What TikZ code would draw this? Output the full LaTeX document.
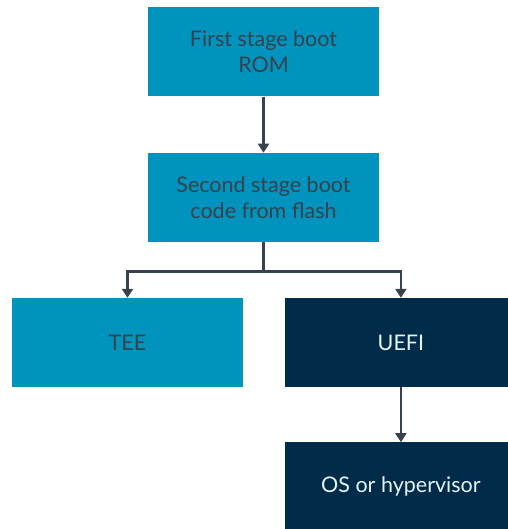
\documentclass[tikz,border=0pt]{standalone}
\usepackage{fontspec}
\setmainfont{Lato}
\usepackage{tikz}
\usetikzlibrary{arrows.meta,positioning,calc}
\definecolor{bootblue}{HTML}{0093BE}
\definecolor{bootnavy}{HTML}{002B49}
\definecolor{bootgrey}{HTML}{37424D}
\tikzset{
  lightbox/.style={fill=bootblue,text=bootgrey,minimum width=231pt,minimum height=89pt,align=center,inner sep=0pt,font=\fontsize{21.5}{26}\selectfont},
  darkbox/.style={lightbox,fill=bootnavy,text=white!90!bootblue},
  flow/.style={draw=bootgrey,line width=2.8pt,-{Triangle[width=11pt,length=9pt]}}
}
\begin{document}
\begin{tikzpicture}[x=1pt,y=1pt,node distance=55pt and 42pt]
\useasboundingbox (0,0) rectangle (507,-529);
\node[lightbox] (rom) at (263.5,-52) {First stage boot\\ROM};
\node[lightbox,below=56pt of rom] (flash) {Second stage boot\\code from flash};
\node[lightbox] (tee) at (127.5,-342.5) {TEE};
\node[darkbox,right=of tee] (uefi) {UEFI};
\node[darkbox,below=of uefi] (os) {OS or hypervisor};
\coordinate (split) at ($(flash.south)+(0,-29)$);
\draw[flow] (rom) -- (flash);
\draw[flow] (flash.south) -- (split) -| (tee.north);
\draw[flow] (split) -| (uefi.north);
\draw[flow] (uefi) -- (os);
\end{tikzpicture}
\end{document}
